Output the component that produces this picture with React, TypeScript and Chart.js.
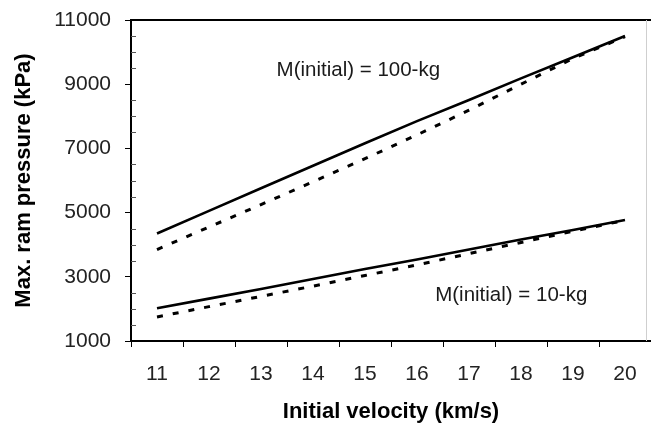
import React, { useEffect, useRef } from 'react';
import { Chart, registerables } from 'chart.js';

Chart.register(...registerables);

// Categories (initial velocity, km/s)
const velocities = ['11', '12', '13', '14', '15', '16', '17', '18', '19', '20'];

// Max. ram pressure (kPa)
const ram100Solid = [4350, 5055, 5760, 6460, 7160, 7850, 8510, 9180, 9840, 10500];
const ram100Dashed = [3850, 4550, 5250, 5960, 6680, 7420, 8190, 9000, 9800, 10480];
const ram10Solid = [2020, 2320, 2620, 2930, 3240, 3540, 3850, 4160, 4460, 4770];
const ram10Dashed = [1750, 2070, 2390, 2710, 3040, 3370, 3720, 4070, 4420, 4760];

// Y axis
const yMin = 1000;
const yMax = 11000;
const yStep = 2000;
const yMinorStep = 500;

// Annotation texts (anchored in data coordinates: [category offset, value])
const labelTexts = ['M(initial) = 100-kg', 'M(initial) = 10-kg'];
const labelAnchors: [number, number][] = [
  [2.3, 9440],
  [5.35, 2420],
];

const FONT = '"Liberation Sans", Arial, sans-serif';

const framePlugin = {
  id: 'frameAndNotes',
  afterDraw(chart: any) {
    const { ctx, chartArea: a, scales } = chart;
    ctx.save();
    // top border
    ctx.strokeStyle = '#000';
    ctx.lineWidth = 2;
    ctx.beginPath();
    ctx.moveTo(a.left, a.top);
    ctx.lineTo(a.right, a.top);
    ctx.stroke();
    // faint right border
    ctx.strokeStyle = '#cfcfcf';
    ctx.lineWidth = 1;
    ctx.beginPath();
    ctx.moveTo(a.right - 4.5, a.top);
    ctx.lineTo(a.right - 4.5, a.bottom);
    ctx.stroke();
    // minor y ticks inside
    ctx.strokeStyle = '#555';
    ctx.lineWidth = 1;
    ctx.beginPath();
    for (let v = yMin + yMinorStep; v < yMax; v += yMinorStep) {
      if ((v - yMin) % yStep === 0) continue;
      const y = Math.round(scales.y.getPixelForValue(v)) + 0.5;
      ctx.moveTo(a.left, y);
      ctx.lineTo(a.left + 5, y);
    }
    ctx.stroke();
    // annotations
    ctx.fillStyle = '#1a1a1a';
    ctx.font = '20.5px ' + FONT;
    ctx.textAlign = 'left';
    ctx.textBaseline = 'middle';
    labelTexts.forEach((t, i) => {
      const [cx, cy] = labelAnchors[i];
      ctx.fillText(t, scales.x.getPixelForValue(cx), scales.y.getPixelForValue(cy));
    });
    ctx.restore();
  },
};

export default function App() {
  const ref = useRef<HTMLCanvasElement | null>(null);

  useEffect(() => {
    if (!ref.current) return;
    const chart = new Chart(ref.current, {
      type: 'line',
      data: {
        labels: velocities,
        datasets: [
          {
            data: ram100Solid,
            borderColor: '#000',
            borderWidth: 2.6,
            pointRadius: 0,
            tension: 0,
            fill: false,
          },
          {
            data: ram100Dashed,
            borderColor: '#000',
            borderWidth: 3,
            borderDash: [6, 10],
            pointRadius: 0,
            tension: 0,
            fill: false,
          },
          {
            data: ram10Solid,
            borderColor: '#000',
            borderWidth: 2.6,
            pointRadius: 0,
            tension: 0,
            fill: false,
          },
          {
            data: ram10Dashed,
            borderColor: '#000',
            borderWidth: 3,
            borderDash: [6, 10],
            pointRadius: 0,
            tension: 0,
            fill: false,
          },
        ],
      },
      options: {
        animation: false,
        responsive: true,
        maintainAspectRatio: false,
        layout: { padding: { top: 20, right: 0, bottom: 0, left: 0 } },
        plugins: {
          legend: { display: false },
          tooltip: { enabled: false },
        },
        scales: {
          x: {
            type: 'category',
            offset: true,
            afterFit: (s: any) => {
              s.height = 82;
              s.paddingLeft = 0;
              s.paddingRight = 0;
            },
            border: { display: true, color: '#000', width: 2 },
            grid: {
              display: true,
              offset: true,
              drawOnChartArea: false,
              drawTicks: true,
              tickLength: 6,
              color: '#000',
              lineWidth: 1,
            },
            ticks: {
              color: '#222',
              font: { family: FONT, size: 21 },
              padding: 15,
              maxRotation: 0,
            },
            title: {
              display: true,
              text: 'Initial velocity (km/s)',
              color: '#000',
              font: { family: FONT, size: 22, weight: 'bold', lineHeight: 1 },
              padding: { top: 0, bottom: 0 },
            },
          },
          y: {
            type: 'linear',
            min: yMin,
            max: yMax,
            afterFit: (s: any) => {
              s.width = 131;
              s.paddingTop = 0;
              s.paddingBottom = 0;
            },
            border: { display: true, color: '#000', width: 2 },
            grid: {
              display: true,
              drawOnChartArea: false,
              drawTicks: true,
              tickLength: 6,
              color: '#000',
              lineWidth: 1,
            },
            ticks: {
              stepSize: yStep,
              color: '#222',
              font: { family: FONT, size: 21 },
              padding: 14,
              callback: (v: any) => String(v),
            },
            title: {
              display: true,
              text: 'Max. ram pressure (kPa)',
              color: '#000',
              font: { family: FONT, size: 22, weight: 'bold', lineHeight: 1 },
              padding: { top: 13, bottom: 0 },
            },
          },
        },
      },
      plugins: [framePlugin],
    });
    return () => chart.destroy();
  }, []);

  return (
    <div style={{ position: 'fixed', left: 0, top: 0, width: 651, height: 423, background: '#fff' }}>
      <canvas ref={ref} />
    </div>
  );
}
